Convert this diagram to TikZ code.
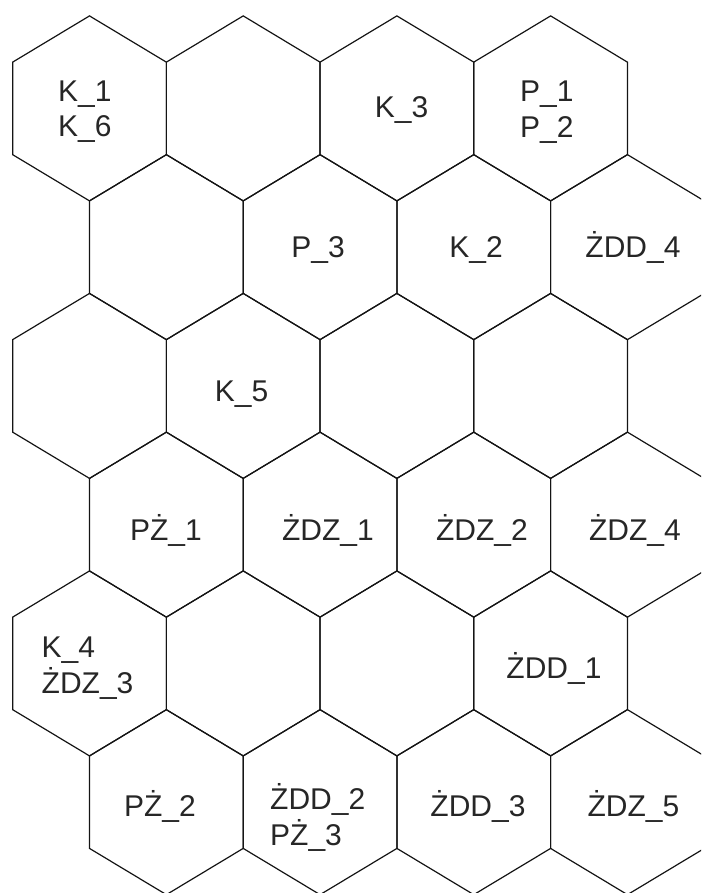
\documentclass[tikz,border=0pt]{standalone}
\usepackage{fontspec}
\setmainfont{Liberation Sans}
\definecolor{hexline}{HTML}{141414}
\definecolor{tagtext}{HTML}{262626}

\begin{document}
\begin{tikzpicture}[
    x=1pt, y=-1pt,
    hexcell/.style={hexline, line width=1.2pt, line join=miter},
    tag/.style={text=tagtext, font=\fontsize{30}{35.5}\selectfont, inner sep=0pt, anchor=base},
    tagpair/.style={tag, align=left, anchor=base west},
  ]

  \useasboundingbox (0,0) rectangle (701,893);
  \clip (0,0) rectangle (701,893);

  % half width and radius of one cell
  \def\hw{76.85}
  \def\hr{92.5}

  % === Hexagon grid: 6 rows, 4 cells each ===
  \foreach \row in {0,...,5}{
    \foreach \col in {0,...,3}{
      \pgfmathsetmacro{\cx}{89.5 + 2*\hw*\col + mod(\row,2)*\hw}
      \pgfmathsetmacro{\cy}{108.4 + 1.5*\hr*\row}
      \coordinate (c-\row-\col) at (\cx,\cy);
      \draw[hexcell] (\cx,\cy-\hr) -- ++(\hw,\hr/2) -- ++(0,\hr)
        -- ++(-\hw,\hr/2) -- ++(-\hw,-\hr/2) -- ++(0,-\hr) -- cycle;
    }
  }

  % === Row 1 ===
  % two-line tags sit on the baseline of their last line
  \node[tagpair] (k1k6) at (58,137) {K\_1\\K\_6};
  \node[tag] (k3) at (401.5,118) {K\_3};
  \node[tagpair] (p1p2) at (520,137.5) {P\_1\\P\_2};

  % === Row 2 ===
  \node[tag] (p3) at (318,257.5) {P\_3};
  \node[tag] (k2) at (476,258) {K\_2};
  \node[tag] (zdd4) at (633,258) {ŻDD\_4};

  % === Row 3 ===
  \node[tag] (k5) at (241.5,401.7) {K\_5};

  % === Row 4 ===
  \node[tag] (pz1) at (166,540) {PŻ\_1};
  \node[tag] (zdz1) at (328,540) {ŻDZ\_1};
  \node[tag] (zdz2) at (482,540) {ŻDZ\_2};
  \node[tag] (zdz4) at (635,540) {ŻDZ\_4};

  % === Row 5 ===
  \node[tagpair] (k4zdz3) at (41.5,693) {K\_4\\ŻDZ\_3};
  \node[tag] (zdd1) at (554,678) {ŻDD\_1};

  % === Row 6 ===
  \node[tag] (pz2) at (160,816.7) {PŻ\_2};
  \node[tagpair] (zdd2pz3) at (270,845) {ŻDD\_2\\PŻ\_3};
  \node[tag] (zdd3) at (478,816.7) {ŻDD\_3};
  \node[tag] (zdz5) at (633.5,816.7) {ŻDZ\_5};

\end{tikzpicture}
\end{document}
